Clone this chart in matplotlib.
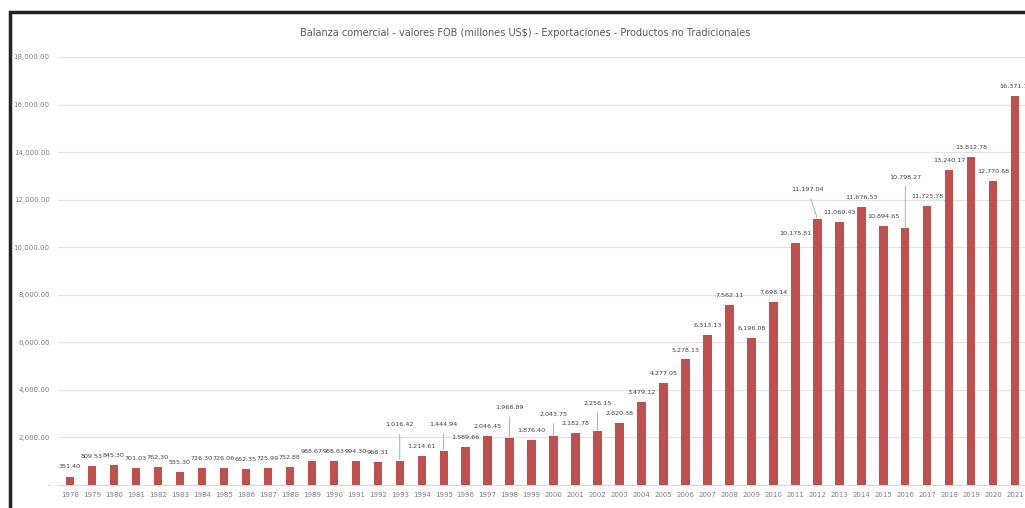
import matplotlib.pyplot as plt
from matplotlib.patches import Rectangle

plt.rcParams['font.family'] = ['Liberation Sans Narrow', 'DejaVu Sans']

years = list(range(1978, 2022))
valores = [351.40, 809.53, 845.30, 701.03, 762.30, 555.30, 726.30, 726.06, 652.35,
           725.99, 752.88, 988.67, 988.63, 994.30, 966.31, 1016.42, 1214.61, 1444.94,
           1589.66, 2046.45, 1966.89, 1876.40, 2043.75, 2182.78, 2256.15, 2620.38,
           3479.12, 4277.05, 5278.13, 6313.13, 7562.11, 6196.08, 7698.14, 10175.81,
           11197.04, 11069.43, 11676.53, 10894.65, 10798.27, 11725.78, 13240.17,
           13812.78, 12770.68, 16371.75]
y_ticks = [0, 2000, 4000, 6000, 8000, 10000, 12000, 14000, 16000, 18000]

titulo = 'Balanza comercial - valores FOB (millones US$) - Exportaciones - Productos no Tradicionales'

# etiquetas que van mas arriba con linea guia (dx, dy en puntos)
desplazadas = {1993: (0, 26), 1995: (0, 19), 1998: (0, 22), 2000: (0, 16),
               2002: (0, 20), 2012: (-7, 21), 2016: (0, 37)}

fig = plt.figure(figsize=(10.25, 5.08), dpi=100)
ax = fig.add_axes([58 / 1025, 23 / 508, 977 / 1025, 428 / 508])

x = list(range(len(years)))
ax.bar(x, valores, width=0.38, color='#C0504D', zorder=3)

ax.set_xlim(-0.546, 43.9)
ax.set_ylim(0, 18000)
ax.set_yticks(y_ticks)
ax.set_yticklabels(['-'] + [f'{v:,.2f}' for v in y_ticks[1:]])
ax.set_xticks(x)
ax.set_xticklabels([str(a) for a in years])
ax.tick_params(axis='both', length=0, labelsize=5, labelcolor='#7f7f7f')
ax.tick_params(axis='y', pad=6)
ax.tick_params(axis='x', pad=5)
ax.grid(axis='y', color='#e3e3e3', linewidth=0.9, zorder=0)
for s in ['top', 'right', 'left']:
    ax.spines[s].set_visible(False)
ax.spines['bottom'].set_color('#d9d9d9')

for i, (a, v) in enumerate(zip(years, valores)):
    lab = f'{v:,.2f}'
    if a in desplazadas:
        dx, dy = desplazadas[a]
        ax.annotate(lab, (i, v), xytext=(dx, dy), textcoords='offset points',
                    ha='center', va='center', fontsize=4.6, color='#404040',
                    arrowprops=dict(arrowstyle='-', color='#a0a0a0', lw=0.6,
                                    shrinkA=3, shrinkB=1),
                    annotation_clip=False)
    else:
        ax.annotate(lab, (i, v), xytext=(0, 7), textcoords='offset points',
                    ha='center', va='center', fontsize=4.6, color='#404040',
                    annotation_clip=False)

fig.text(525 / 1025, 1 - 33 / 508, titulo, ha='center', va='center',
         fontsize=7, color='#595959')

# marco de la captura
fig.add_artist(Rectangle((10 / 1025, -0.1), 1.1, 1 - 12 / 508 + 0.1,
                         transform=fig.transFigure, fill=False,
                         edgecolor='#222222', linewidth=2.5))

fig.savefig('out.png', dpi=100)
